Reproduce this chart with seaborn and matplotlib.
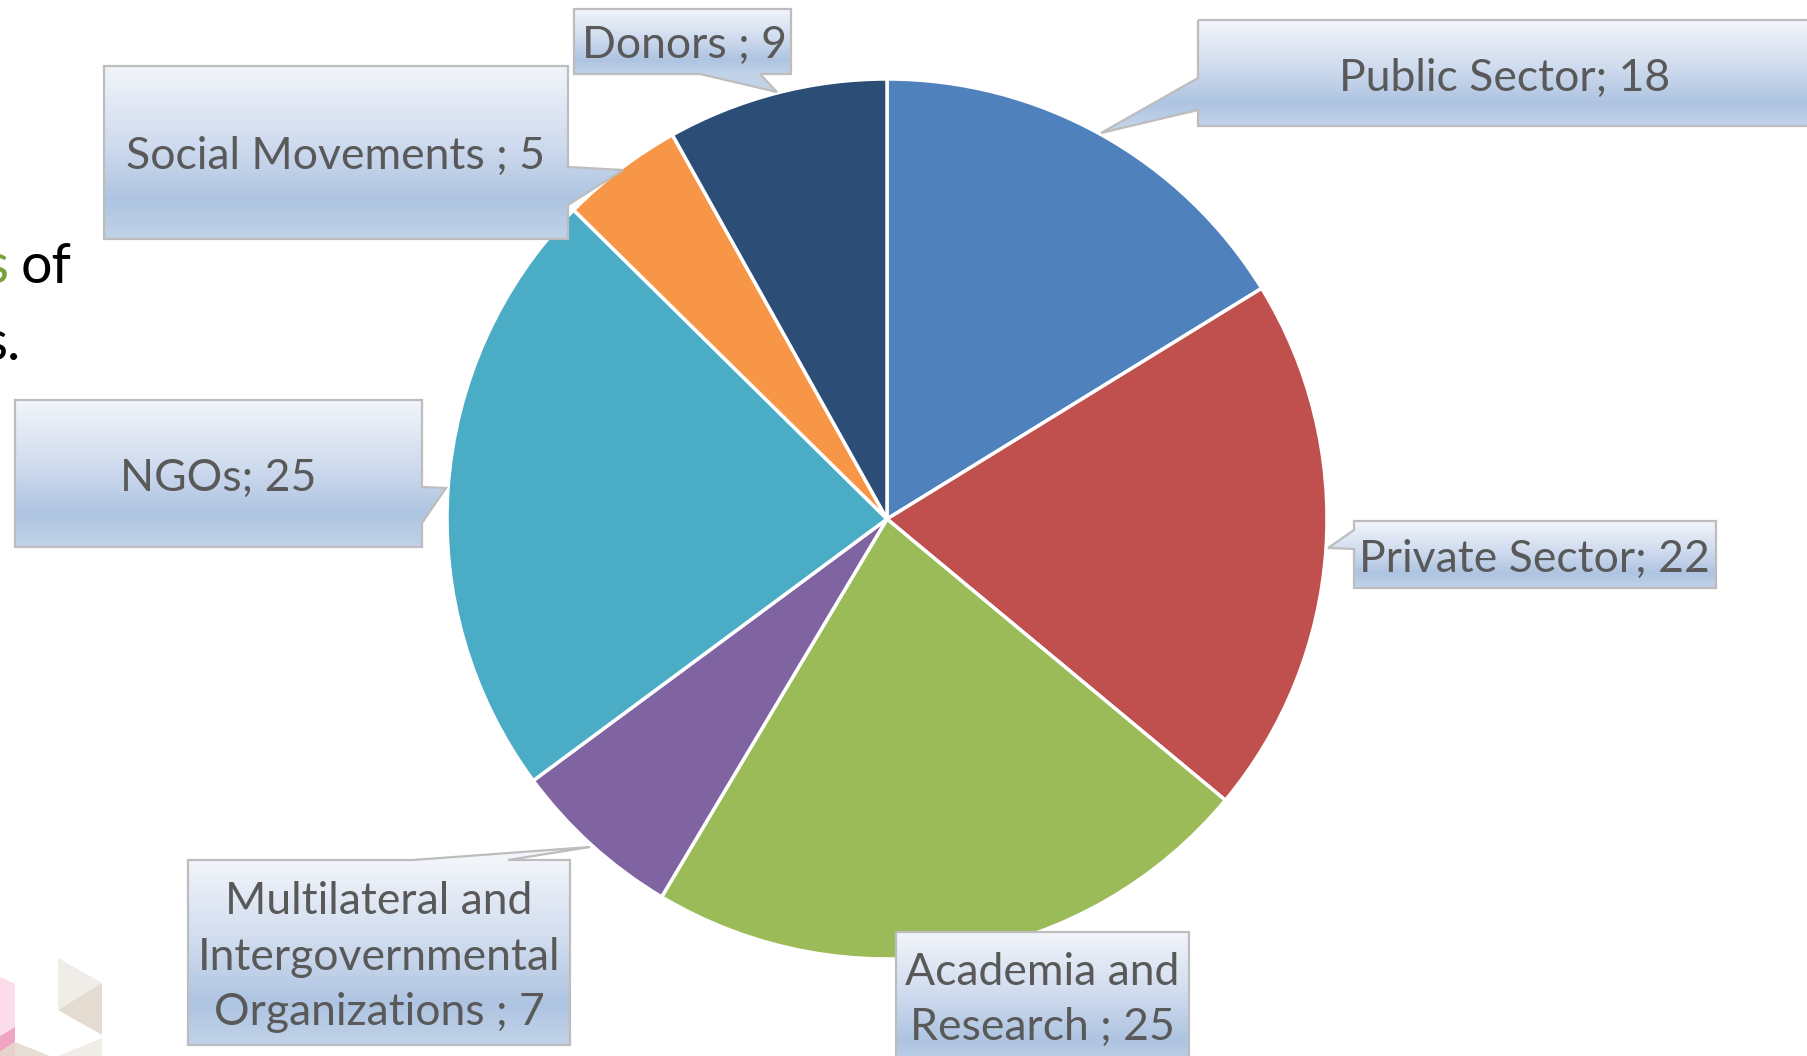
import numpy as np
import matplotlib
matplotlib.use("Agg")
import matplotlib.pyplot as plt
from matplotlib.path import Path
from matplotlib.patches import PathPatch, Polygon
from matplotlib.colors import to_rgb
import seaborn as sns

# ---------------- data ----------------
categories = ["Public Sector", "Private Sector", "Academia and\nResearch",
              "Multilateral and\nIntergovernmental\nOrganizations", "NGOs",
              "Social Movements", "Donors"]
values = [18, 22, 25, 7, 25, 5, 9]
separators = ["; ", "; ", " ; ", " ; ", "; ", " ; ", " ; "]
colors = ["#4F81BD", "#C0504D", "#9BBB59", "#8064A2", "#4BACC6", "#F79646", "#2C4D75"]

# ---------------- layout ----------------
W, H = 1808, 1056
sns.set_theme(style="white")
plt.rcParams['font.family'] = ['Lato', 'DejaVu Sans']

fig = plt.figure(figsize=(W / 100, H / 100), dpi=100)
ax = fig.add_axes([0, 0, 1, 1])


def Y(y):
    return H - y


palette = sns.color_palette(colors)
cx, cy, r = 887, 519, 440
wedges, _ = ax.pie(values, colors=palette, startangle=90, counterclock=False,
                   center=(cx, Y(cy)), radius=r,
                   wedgeprops=dict(edgecolor="white", linewidth=2.5))
for w in wedges:
    w.set_zorder(1)

# callout shapes (pixel coords, y down): rectangle + pointer vertices
callouts = {
    "Public Sector": dict(rect=(1198, 20, 1840, 126),
                          poly=[(1198, 20), (1840, 20), (1840, 126), (1198, 126),
                                (1198, 110), (1101, 133), (1198, 78)],
                          text=(1505, 78)),
    "Private Sector": dict(rect=(1354, 521, 1716, 588),
                           poly=[(1354, 521), (1716, 521), (1716, 588), (1354, 588),
                                 (1354, 549), (1328, 548), (1354, 530)],
                           text=(1534, 559)),
    "Academia and\nResearch": dict(rect=(896, 932, 1189, 1070),
                                   poly=[(896, 932), (1189, 932), (1189, 1070), (896, 1070)],
                                   text=(1042, 1000)),
    "Multilateral and\nIntergovernmental\nOrganizations": dict(
        rect=(188, 860, 570, 1045),
        poly=[(188, 860), (413, 860), (590, 847), (508, 860), (570, 860),
              (570, 1045), (188, 1045)],
        text=(379, 957)),
    "NGOs": dict(rect=(15, 400, 422, 547),
                 poly=[(15, 400), (422, 400), (422, 487), (446, 488), (422, 523),
                       (422, 547), (15, 547)],
                 text=(218, 478)),
    "Social Movements": dict(rect=(104, 66, 568, 239),
                             poly=[(104, 66), (568, 66), (568, 167), (623, 170),
                                   (568, 205), (568, 239), (104, 239)],
                             text=(336, 156)),
    "Donors": dict(rect=(574, 9, 791, 74),
                   poly=[(574, 9), (791, 9), (791, 74), (760, 74), (777, 92),
                         (700, 74), (574, 74)],
                   text=(684, 45)),
}

stops_t = [0.0, 0.45, 0.78, 1.0]
stops_c = [to_rgb(c) for c in ["#F2F5FA", "#CFDBEE", "#AEC4E1", "#C2D3E9"]]


def grad_color(t):
    t = np.clip(t, 0, 1)
    return np.array([np.interp(t, stops_t, [c[i] for c in stops_c]) for i in range(3)]).T


for name, val, sep in zip(categories, values, separators):
    c = callouts[name]
    x0, y0, x1, y1 = c["rect"]
    pts = c["poly"]
    verts = [(x, Y(y)) for x, y in pts] + [(pts[0][0], Y(pts[0][1]))]
    codes = [Path.MOVETO] + [Path.LINETO] * (len(pts) - 1) + [Path.CLOSEPOLY]
    path = Path(verts, codes)
    patch = PathPatch(path, facecolor="none", edgecolor="#BDBDBD", lw=1.6, zorder=4)
    ax.add_patch(patch)
    xs = [p[0] for p in pts]
    ys = [p[1] for p in pts]
    ymin, ymax = min(ys), max(ys)
    rows = np.linspace(ymin, ymax, 300)
    tt = (rows - y0) / (y1 - y0)
    img = grad_color(tt)[:, None, :].repeat(2, axis=1)
    im = ax.imshow(img, extent=(min(xs), max(xs), Y(ymax), Y(ymin)),
                   origin="upper", aspect="auto", zorder=3, interpolation="bilinear")
    im.set_clip_path(patch)
    label = f"{name}{sep}{val}"
    tx, ty = c["text"]
    ax.text(tx, Y(ty), label, ha="center", va="center", fontsize=32,
            color="#595959", linespacing=1.45, zorder=5)

# partial slide text on the left
ax.text(21, Y(283), "of", ha="left", va="baseline", fontsize=40, color="black", zorder=5)
ax.text(8, Y(283), "s", ha="right", va="baseline", fontsize=40, color="#77A33A", zorder=5)
ax.text(20, Y(360), "s.", ha="right", va="baseline", fontsize=40, color="black", zorder=5)

# decorative triangles bottom-left
deco = [
    ([(58, 958), (102, 983), (58, 1010)], "#F0ECE8"),
    ([(58, 1010), (102, 983), (102, 1035)], "#E4DBD1"),
    ([(0, 977), (15, 984), (15, 1027), (0, 1036)], "#FADDE8"),
    ([(0, 1036), (15, 1027), (15, 1042), (0, 1052)], "#F0A6C3"),
    ([(15, 1042), (50, 1056), (15, 1056)], "#E6DDD3"),
    ([(0, 1052), (15, 1042), (15, 1056), (0, 1056)], "#E6D4CC"),
    ([(58, 1056), (102, 1038), (102, 1056)], "#F0ECE8"),
]
for pts, col in deco:
    ax.add_patch(Polygon([(x, Y(y)) for x, y in pts], closed=True, facecolor=col,
                         edgecolor="none", zorder=2))

ax.set_xlim(0, W)
ax.set_ylim(0, H)
ax.set_aspect("equal")
ax.axis("off")
fig.savefig("out.png", dpi=100, facecolor="white")
